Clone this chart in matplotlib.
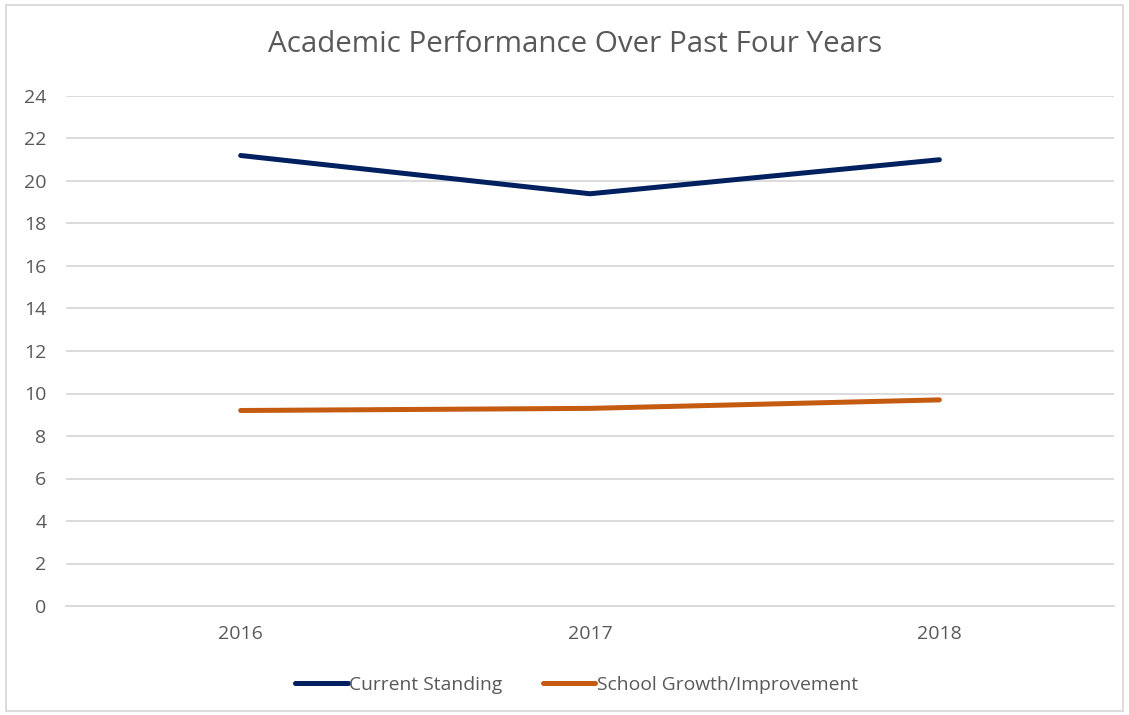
import matplotlib.pyplot as plt
from matplotlib.patches import Rectangle

plt.rcParams['font.family'] = ['Open Sans', 'DejaVu Sans']

years = ["2016", "2017", "2018"]
current_standing = [21.2, 19.4, 21.0]
school_growth = [9.2, 9.3, 9.7]

W, H = 1129, 715
fig = plt.figure(figsize=(W / 100, H / 100), dpi=100)
ax = fig.add_axes([66 / W, 1 - 606 / H, 1048 / W, 510 / H])

x = range(len(years))
ax.plot(x, current_standing, color="#002060", lw=3.6, solid_capstyle="round",
        label="Current Standing", zorder=3)
ax.plot(x, school_growth, color="#C55A11", lw=3.6, solid_capstyle="round",
        label="School Growth/Improvement", zorder=3)

ax.set_xlim(-0.5, 2.5)
ax.set_ylim(0, 24)
ax.set_yticks(range(0, 25, 2))
ax.set_xticks(list(x))
ax.set_xticklabels(years)
ax.yaxis.grid(True, color="#D9D9D9", lw=1.3)
ax.set_axisbelow(True)
for s in ["top", "right", "left"]:
    ax.spines[s].set_visible(False)
ax.spines["bottom"].set_color("#D9D9D9")
ax.spines["bottom"].set_linewidth(1.3)
ax.tick_params(axis="both", length=0, colors="#595959", labelsize=14)
ax.tick_params(axis="y", pad=14)
ax.tick_params(axis="x", pad=14)

fig.text(575 / W, 1 - 45 / H, "Academic Performance Over Past Four Years",
         ha="center", va="center", fontsize=21.3, color="#595959")

fig.legend(loc="center", bbox_to_anchor=(577 / W, 1 - 685 / H), ncol=2,
           frameon=False, fontsize=13.9, labelcolor="#595959",
           handlelength=2.7, handletextpad=0.1, columnspacing=2.1)

fig.patches.append(Rectangle((6 / W, 4 / H), 1117 / W, 706 / H,
                             transform=fig.transFigure, fill=False,
                             edgecolor="#D9D9D9", lw=1.3))

fig.savefig("out.png", dpi=100)
